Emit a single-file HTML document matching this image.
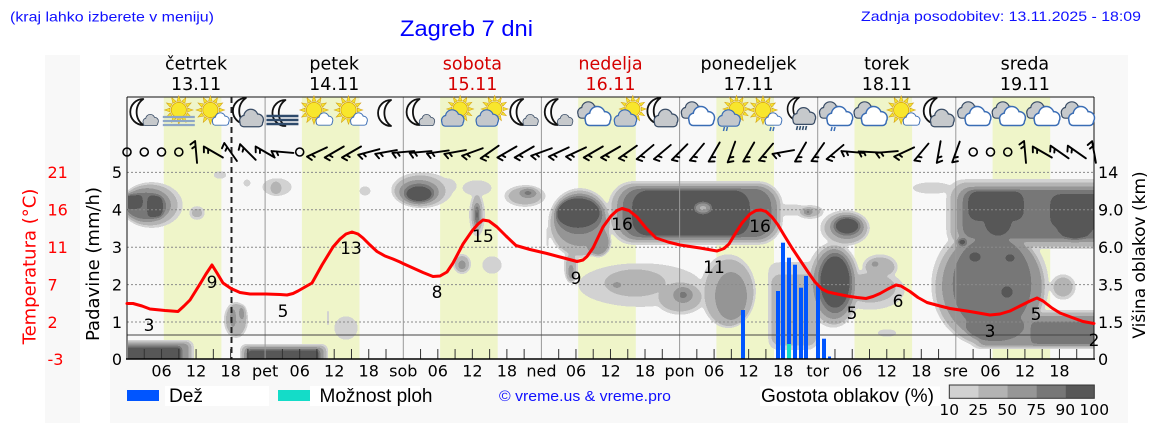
<!DOCTYPE html>
<html><head><meta charset="utf-8"><style>
html,body{margin:0;padding:0;background:#fff;}
body{width:1152px;height:443px;overflow:hidden;}
svg{display:block;}
.dj{font-family:"DejaVu Sans","Liberation Sans",sans-serif;}
.ls{font-family:"Liberation Sans","DejaVu Sans",sans-serif;}
.a{fill:#2e2e2e}.b{fill:#616161}.c{fill:#9e9e9e}.d{fill:#d1d1d1}.e{fill:#f7f7f7}
</style></head><body>
<svg width="1152" height="443" viewBox="0 0 1152 443" xmlns="http://www.w3.org/2000/svg">
<defs>
<clipPath id="pc"><rect x="128" y="162" width="966" height="197"/></clipPath>
<filter id="cf" filterUnits="userSpaceOnUse" x="100" y="140" width="1040" height="240" color-interpolation-filters="sRGB">
<feGaussianBlur in="SourceGraphic" stdDeviation="1.5" result="bl"/>
<feComponentTransfer in="bl" result="q">
<feFuncR type="discrete" tableValues="1 1 0.824 0.824 0.824 0.706 0.706 0.706 0.706 0.706 0.588 0.588 0.588 0.588 0.588 0.47 0.47 0.47 0.345 0.345"/>
<feFuncG type="discrete" tableValues="1 1 0.824 0.824 0.824 0.706 0.706 0.706 0.706 0.706 0.588 0.588 0.588 0.588 0.588 0.47 0.47 0.47 0.345 0.345"/>
<feFuncB type="discrete" tableValues="1 1 0.824 0.824 0.824 0.706 0.706 0.706 0.706 0.706 0.588 0.588 0.588 0.588 0.588 0.47 0.47 0.47 0.345 0.345"/>
</feComponentTransfer>
<feColorMatrix in="q" type="matrix" values="1 0 0 0 0  0 1 0 0 0  0 0 1 0 0  -10 0 0 0 10"/>
</filter>
<g id="moon"><path d="M3,-13A13,13 0 0 0 3,13A16,16 0 0 1 3,-13Z" fill="#fff" stroke="#111" stroke-width="1.8" stroke-linejoin="round"/></g>
<g id="sun"><path d="M9.29,-1.98L15,0L9.29,1.98Z M9.03,2.94L12.99,7.5L7.06,6.36Z M6.36,7.06L7.5,12.99L2.94,9.03Z M1.98,9.29L0,15L-1.98,9.29Z M-2.94,9.03L-7.5,12.99L-6.36,7.06Z M-7.06,6.36L-12.99,7.5L-9.03,2.94Z M-9.29,1.98L-15,0L-9.29,-1.98Z M-9.03,-2.94L-12.99,-7.5L-7.06,-6.36Z M-6.36,-7.06L-7.5,-12.99L-2.94,-9.03Z M-1.98,-9.29L0,-15L1.98,-9.29Z M2.94,-9.03L7.5,-12.99L6.36,-7.06Z M7.06,-6.36L12.99,-7.5L9.03,-2.94Z" fill="#f6e42c" stroke="#d4a017" stroke-width="0.6"/><circle r="8" fill="#f8e62c" stroke="#d9a400" stroke-width="0.8"/></g>
<g id="cs"><circle cx="-7" cy="3" r="5.5"/><circle cx="0" cy="-2" r="7.5"/><circle cx="8" cy="2" r="6"/><rect x="-12" y="2" width="25" height="7.5" rx="3.5"/></g>
<g id="cw"><use href="#cs" fill="#3a6db5" stroke="#3a6db5" stroke-width="3.2"/><use href="#cs" fill="#fff"/></g>
<g id="cg"><use href="#cs" fill="#3a4d66" stroke="#3a4d66" stroke-width="3"/><use href="#cs" fill="#c6c9cc"/></g>
<g id="cgb"><use href="#cs" fill="#3a6db5" stroke="#3a6db5" stroke-width="3"/><use href="#cs" fill="#c4c8cc"/></g>
<g id="T1"><use href="#moon" transform="translate(-4,-1)"/><use href="#cg" transform="translate(6,7) scale(0.55)"/></g>
<g id="T2"><use href="#sun" transform="translate(0,-3) scale(0.95)"/><path d="M-16,4H16M-16,8H16M-16,12H16" stroke="#8ea7c6" stroke-width="2.2"/></g>
<g id="T3"><use href="#sun" transform="translate(-3,-3) scale(0.95)"/><use href="#cw" transform="translate(7,6) scale(0.6)"/></g>
<g id="T4"><use href="#moon" transform="translate(-5,-2)"/><use href="#cg" transform="translate(3,5) scale(0.85)"/></g>
<g id="T5"><use href="#moon"/><path d="M-16,3H16M-16,7H16M-16,11H16" stroke="#2e4a6b" stroke-width="2.4"/></g>
<g id="T6"><use href="#moon" transform="translate(2,0)"/></g>
<g id="T7"><use href="#sun" transform="translate(5,-4) scale(0.9)"/><use href="#cgb" transform="translate(-3,5) scale(0.8)"/></g>
<g id="T8"><use href="#cg" transform="translate(-5,-3) scale(0.8)"/><use href="#cw" transform="translate(4,3) scale(0.92)"/></g>
<g id="T9"><use href="#T7"/><path d="M-7,14l-1,4M-4,14l-1,4" stroke="#3a6db5" stroke-width="1.5"/></g>
<g id="T10"><use href="#T3"/><path d="M5,14l-1,4M8,14l-1,4" stroke="#3a6db5" stroke-width="1.5"/></g>
<g id="T11"><use href="#moon" transform="translate(-4,-4) scale(0.9)"/><use href="#cg" transform="translate(3,3) scale(0.82)"/><path d="M-3,13l-1,4M0,13l-1,4M3,13l-1,4M6,13l-1,4" stroke="#34506e" stroke-width="1.6"/></g>
<g id="T12"><use href="#T8"/><path d="M-3,14l-1,4M0,14l-1,4" stroke="#3a6db5" stroke-width="1.5"/></g>
<g id="bb"><path d="M-11,0H11M-11,0l3,5M-6,0l2,3.5" fill="none" stroke="#000" stroke-width="1.9" stroke-linecap="round"/></g>
</defs>

<rect x="45" y="55" width="35" height="368" fill="#f8f8f8"/>
<rect x="110" y="55" width="1018" height="368" fill="#f8f8f8"/>

<g fill="#eff5c9">
<rect x="163.8" y="97" width="57.6" height="262"/>
<rect x="301.9" y="97" width="57.6" height="262"/>
<rect x="440.1" y="97" width="57.6" height="262"/>
<rect x="578.2" y="97" width="57.6" height="262"/>
<rect x="716.4" y="97" width="57.6" height="262"/>
<rect x="854.5" y="97" width="57.6" height="262"/>
<rect x="992.6" y="97" width="57.6" height="262"/>
</g>

<g clip-path="url(#pc)"><g filter="url(#cf)">
<rect x="100" y="140" width="1040" height="240" fill="#000"/>
<g class="a">
<ellipse cx="152" cy="205" rx="31" ry="23"/>
<ellipse cx="197" cy="213" rx="8" ry="7"/>
<ellipse cx="220" cy="175" rx="7" ry="4"/>
<ellipse cx="247" cy="183" rx="4" ry="4"/>
<ellipse cx="277" cy="187" rx="15" ry="9"/>
<ellipse cx="365" cy="191" rx="6" ry="5"/>
<ellipse cx="422" cy="190" rx="31" ry="18"/>
<ellipse cx="447" cy="186" rx="10" ry="8"/>
<ellipse cx="477" cy="188" rx="15" ry="8"/>
<ellipse cx="477" cy="215" rx="8" ry="22"/>
<ellipse cx="462" cy="264" rx="9" ry="10"/>
<ellipse cx="492" cy="265" rx="10" ry="9"/>
<ellipse cx="236" cy="320" rx="12" ry="18"/>
<ellipse cx="346" cy="328" rx="12" ry="12"/>
<rect x="326.5" y="309" width="3" height="18"/>
<rect x="110" y="340" width="84" height="40" rx="6"/>
<rect x="240" y="344" width="88" height="40" rx="6"/>
<ellipse cx="525" cy="196" rx="21" ry="11"/>
<rect x="546" y="228" width="3" height="20"/>
<ellipse cx="580" cy="223" rx="32" ry="35"/>
<ellipse cx="571" cy="265" rx="7" ry="18"/>
<rect x="608" y="181" width="175" height="64" rx="25"/>
<ellipse cx="640" cy="285" rx="62" ry="22"/>
<ellipse cx="680" cy="297" rx="26" ry="18"/>
<ellipse cx="728" cy="291" rx="28" ry="37"/>
<rect x="768" y="262" width="50" height="88" rx="10"/>
<ellipse cx="765" cy="196" rx="14" ry="9"/>
<ellipse cx="790" cy="210" rx="20" ry="6"/>
<ellipse cx="810" cy="212" rx="14" ry="7"/>
<ellipse cx="845" cy="228" rx="25" ry="18"/>
<ellipse cx="833" cy="285" rx="28" ry="43"/>
<ellipse cx="870" cy="290" rx="35" ry="20"/>
<ellipse cx="880" cy="267" rx="18" ry="13"/>
<ellipse cx="887" cy="333" rx="10" ry="4"/>
<ellipse cx="932" cy="188" rx="20" ry="6"/>
<rect x="946" y="179" width="180" height="70" rx="18"/>
<ellipse cx="990" cy="285" rx="59" ry="63"/>
<rect x="968" y="310" width="160" height="39" rx="12"/>
<ellipse cx="1063" cy="287" rx="13" ry="13"/>
</g>
<g class="b">
<ellipse cx="150" cy="205" rx="27" ry="20"/>
<ellipse cx="197" cy="213" rx="5" ry="4"/>
<ellipse cx="276" cy="188" rx="5" ry="6"/>
<ellipse cx="420" cy="191" rx="25" ry="15"/>
<ellipse cx="477" cy="213" rx="5" ry="18"/>
<ellipse cx="462" cy="264" rx="7" ry="8"/>
<ellipse cx="236" cy="320" rx="10" ry="16"/>
<rect x="110" y="342" width="81" height="40" rx="5"/>
<rect x="242" y="346" width="84" height="40" rx="5"/>
<ellipse cx="525" cy="196" rx="16" ry="8"/>
<ellipse cx="580" cy="223" rx="29" ry="32"/>
<ellipse cx="571" cy="268" rx="5" ry="14"/>
<rect x="612" y="184" width="168" height="58" rx="22"/>
<ellipse cx="635" cy="283" rx="30" ry="13"/>
<ellipse cx="680" cy="297" rx="21" ry="14"/>
<ellipse cx="729" cy="293" rx="24" ry="33"/>
<rect x="772" y="275" width="44" height="70" rx="8"/>
<ellipse cx="765" cy="197" rx="8" ry="5"/>
<ellipse cx="810" cy="212" rx="10" ry="4"/>
<ellipse cx="846" cy="228" rx="21" ry="15"/>
<ellipse cx="834" cy="285" rx="24" ry="39"/>
<ellipse cx="870" cy="288" rx="25" ry="14"/>
<ellipse cx="880" cy="267" rx="14" ry="9"/>
<rect x="951" y="183" width="175" height="63" rx="16"/>
<ellipse cx="990" cy="287" rx="54" ry="58"/>
<rect x="973" y="313" width="155" height="34" rx="10"/>
<ellipse cx="1063" cy="287" rx="9" ry="9"/>
</g>
<g class="c">
<ellipse cx="147" cy="205" rx="24" ry="17"/>
<ellipse cx="419" cy="192" rx="20" ry="12"/>
<ellipse cx="462" cy="265" rx="4" ry="5"/>
<ellipse cx="233" cy="318" rx="3" ry="10"/>
<ellipse cx="242" cy="313" rx="3" ry="7"/>
<rect x="110" y="343" width="79" height="40" rx="5"/>
<rect x="244" y="347" width="80" height="40" rx="5"/>
<ellipse cx="528" cy="193" rx="9" ry="5"/>
<ellipse cx="580" cy="220" rx="26" ry="26"/>
<ellipse cx="598" cy="242" rx="12" ry="14"/>
<ellipse cx="571" cy="272" rx="3" ry="8"/>
<rect x="617" y="186" width="160" height="54" rx="20"/>
<ellipse cx="617" cy="285" rx="5" ry="3"/>
<ellipse cx="683" cy="295" rx="10" ry="8"/>
<ellipse cx="731" cy="296" rx="16" ry="24"/>
<ellipse cx="847" cy="227" rx="17" ry="12"/>
<ellipse cx="834" cy="284" rx="21" ry="35"/>
<ellipse cx="875" cy="264" rx="4" ry="3"/>
<rect x="957" y="187" width="169" height="55" rx="14"/>
<ellipse cx="992" cy="286" rx="50" ry="54"/>
<rect x="978" y="316" width="150" height="30" rx="8"/>
</g>
<g class="d">
<ellipse cx="146" cy="206" rx="21" ry="14"/>
<ellipse cx="419" cy="193" rx="16" ry="10"/>
<ellipse cx="477" cy="215" rx="3" ry="12"/>
<ellipse cx="528" cy="193" rx="5" ry="3"/>
<ellipse cx="579" cy="215" rx="24" ry="20"/>
<rect x="622" y="188" width="150" height="50" rx="18"/>
<ellipse cx="683" cy="295" rx="5" ry="4"/>
<ellipse cx="847" cy="226" rx="14" ry="10"/>
<ellipse cx="835" cy="283" rx="18" ry="31"/>
<ellipse cx="808" cy="212" rx="4" ry="3"/>
<rect x="962" y="189" width="165" height="50" rx="12"/>
<ellipse cx="992" cy="284" rx="40" ry="48"/>
<ellipse cx="995" cy="326" rx="30" ry="16"/>
<rect x="1030" y="321" width="100" height="24" rx="6"/>
</g>
<g class="e">
<rect x="110" y="194" width="33" height="15" rx="5"/>
<rect x="147" y="195" width="16" height="23" rx="5"/>
<ellipse cx="419" cy="194" rx="13" ry="8"/>
<ellipse cx="477" cy="215" rx="2" ry="9"/>
<rect x="110" y="346" width="72" height="40" rx="4"/>
<rect x="247" y="349" width="73" height="40" rx="4"/>
<ellipse cx="578" cy="213" rx="22" ry="15"/>
<rect x="632" y="190" width="118" height="46" rx="16"/>
<ellipse cx="847" cy="226" rx="12" ry="8"/>
<ellipse cx="835" cy="282" rx="15" ry="26"/>
<rect x="968" y="191" width="56" height="30" rx="10"/>
<ellipse cx="998" cy="220" rx="14" ry="16"/>
<rect x="1050" y="194" width="80" height="34" rx="10"/>
<ellipse cx="1075" cy="222" rx="20" ry="18"/>
<ellipse cx="962" cy="242" rx="5" ry="4"/>
<ellipse cx="975" cy="257" rx="6" ry="5"/>
<ellipse cx="1010" cy="258" rx="5" ry="4"/>
<ellipse cx="1007" cy="292" rx="6" ry="6"/>
</g>
<ellipse class="c" cx="703" cy="208" rx="8" ry="5"/>
<ellipse class="b" cx="703" cy="208" rx="4" ry="2.5"/>
</g></g>

<g stroke="#8a8a8a" stroke-width="1" stroke-dasharray="2,2">
<path d="M127,172.4H1094M127,209.8H1094M127,247.2H1094M127,284.6H1094M127,322H1094"/>
</g>
<g stroke="#999" stroke-width="1">
<path d="M265.1,97V359M403.3,97V359M541.4,97V359M679.6,97V359M817.7,97V359M955.8,97V359"/>
</g>
<path d="M127,335H1094" stroke="#444" stroke-width="1"/>
<path d="M231.5,97V359" stroke="#222" stroke-width="2" stroke-dasharray="6,4"/>

<path stroke="#333" stroke-width="1" d="M144.27,349V359M161.54,349V359M178.8,349V359M196.07,349V359M213.34,349V359M230.6,349V359M247.87,349V359M282.41,349V359M299.68,349V359M316.94,349V359M334.21,349V359M351.48,349V359M368.74,349V359M386.01,349V359M420.55,349V359M437.82,349V359M455.08,349V359M472.35,349V359M489.62,349V359M506.88,349V359M524.15,349V359M558.69,349V359M575.96,349V359M593.22,349V359M610.49,349V359M627.76,349V359M645.02,349V359M662.29,349V359M696.83,349V359M714.1,349V359M731.36,349V359M748.63,349V359M765.9,349V359M783.16,349V359M800.43,349V359M834.97,349V359M852.24,349V359M869.5,349V359M886.77,349V359M904.04,349V359M921.3,349V359M938.57,349V359M973.11,349V359M990.38,349V359M1007.64,349V359M1024.91,349V359M1042.18,349V359M1059.44,349V359M1076.71,349V359"/>

<g fill="#0055ff">
<rect x="741" y="310" width="4" height="49"/>
<rect x="776" y="291" width="4" height="68"/>
<rect x="781" y="242.7" width="4" height="116.3"/>
<rect x="787" y="257.7" width="4" height="101.3"/>
<rect x="793" y="264.7" width="4" height="94.3"/>
<rect x="799" y="287.7" width="4" height="71.3"/>
<rect x="804" y="276" width="4" height="83"/>
<rect x="816" y="285" width="4" height="74"/>
<rect x="822" y="338.7" width="4" height="20.3"/>
<rect x="828" y="356.5" width="3" height="2.5"/>
</g>
<rect x="787" y="344" width="4" height="15" fill="#14dcc8"/>

<path d="M127,97H1094M127,97V359M1094,97V359" stroke="#111" stroke-width="1" fill="none"/>
<path d="M126,359H1095" stroke="#000" stroke-width="1.6"/>

<polyline fill="none" stroke="#ff0000" stroke-width="3" stroke-linejoin="round" stroke-linecap="round" points="127,303.5 133,303.5 142,306 150,309 165,310.5 178,311.5 184,306 190,300 200,284 206,274 212,265 217,273 223,283 231,288.5 240,292.5 250,294 266,294 280,294.5 287,295 293,293.5 298,291 305,287 312,283 322,265 333,247 340,239 346,234 352,232 358,234 363,238 370,245 377,251.5 385,256 393,259 400,262 403,263.5 413,268 423,272.5 433,276.5 440,276 447,272 453,263 463,244 472,231 478,224 483,220 489,221 497,227 506,236 516,245.5 530,249.5 547,253.5 562,257.5 577,261.5 583,260 587,256.5 593,248 603,227 611,216 617,210.5 622,208.5 629,210.5 637,217 646,228 656,238 668,242 680,245 700,248 717,251 724,248.5 729,244 735,234 742,223 750,214 756,210.5 761,210 766,211.5 772,217 778,225 784,235 792,248 800,260 808,272 815,282 822,289 828,292 837,294 847,296 857,297.5 866,298.5 873,296.5 880,293.5 888,289 896,285 901,286 910,291.5 918,297.5 927,302.5 940,306 950,308.5 970,311.5 990,315 1000,314 1010,311 1020,306 1030,301 1037,298 1043,301 1052,308 1060,313 1072,317.5 1083,321.5 1094,323.5"/>

<g class="dj" font-size="17" fill="#000" text-anchor="middle">
<text x="149" y="331">3</text><text x="212" y="288">9</text><text x="283" y="317">5</text><text x="351" y="254">13</text>
<text x="437" y="298">8</text><text x="483" y="242">15</text><text x="576" y="284">9</text><text x="622" y="230">16</text>
<text x="714" y="273">11</text><text x="760" y="232">16</text><text x="852" y="319">5</text><text x="898" y="307">6</text>
<text x="990" y="337">3</text><text x="1036" y="320">5</text><text x="1094" y="346">2</text>
</g>

<g transform="translate(0,113)">
<use href="#T1" x="144.27"/><use href="#T2" x="178.81"/><use href="#T3" x="213.35"/><use href="#T4" x="247.89"/>
<use href="#T5" x="282.43"/><use href="#T3" x="316.97"/><use href="#T3" x="351.51"/><use href="#T6" x="386.05"/>
<use href="#T1" x="420.59"/><use href="#T7" x="455.13"/><use href="#T7" x="489.67"/><use href="#T1" x="524.21"/>
<use href="#T1" x="558.75"/><use href="#T8" x="593.29"/><use href="#T7" x="627.83"/><use href="#T4" x="662.37"/>
<use href="#T8" x="696.91"/><use href="#T9" x="731.45"/><use href="#T10" x="765.99"/><use href="#T11" x="800.53"/>
<use href="#T12" x="835.07"/><use href="#T8" x="869.61"/><use href="#T3" x="904.15"/><use href="#T4" x="938.69"/>
<use href="#T8" x="973.23"/><use href="#T8" x="1007.77"/><use href="#T8" x="1042.31"/><use href="#T8" x="1076.85"/>
</g>

<g fill="none" stroke="#000" stroke-width="1.6">
<circle cx="127" cy="152" r="4"/><circle cx="144.27" cy="152" r="4"/><circle cx="161.54" cy="152" r="4"/><circle cx="178.81" cy="152" r="4"/>
<circle cx="299.7" cy="152" r="4"/><circle cx="973.23" cy="152" r="4"/><circle cx="990.5" cy="152" r="4"/><circle cx="1007.77" cy="152" r="4"/>
</g>
<use href="#bb" transform="translate(196.08,152) rotate(85)"/>
<use href="#bb" transform="translate(213.35,152) rotate(30)"/>
<use href="#bb" transform="translate(230.62,152) rotate(55)"/>
<use href="#bb" transform="translate(247.89,152) rotate(45)"/>
<use href="#bb" transform="translate(265.16,152) rotate(30)"/>
<use href="#bb" transform="translate(282.43,152) rotate(5)"/>
<use href="#bb" transform="translate(316.97,152) rotate(-25)"/>
<use href="#bb" transform="translate(334.24,152) rotate(-30)"/>
<use href="#bb" transform="translate(351.51,152) rotate(-30)"/>
<use href="#bb" transform="translate(368.78,152) rotate(-15)"/>
<use href="#bb" transform="translate(386.05,152) rotate(-10)"/>
<use href="#bb" transform="translate(403.32,152) rotate(-5)"/>
<use href="#bb" transform="translate(420.59,152) rotate(-5)"/>
<use href="#bb" transform="translate(437.86,152) rotate(-8)"/>
<use href="#bb" transform="translate(455.13,152) rotate(-10)"/>
<use href="#bb" transform="translate(472.4,152) rotate(-20)"/>
<use href="#bb" transform="translate(489.67,152) rotate(-35)"/>
<use href="#bb" transform="translate(506.94,152) rotate(-30)"/>
<use href="#bb" transform="translate(524.21,152) rotate(-30)"/>
<use href="#bb" transform="translate(541.48,152) rotate(-20)"/>
<use href="#bb" transform="translate(558.75,152) rotate(-25)"/>
<use href="#bb" transform="translate(576.02,152) rotate(-25)"/>
<use href="#bb" transform="translate(593.29,152) rotate(-30)"/>
<use href="#bb" transform="translate(610.56,152) rotate(-30)"/>
<use href="#bb" transform="translate(627.83,152) rotate(-35)"/>
<use href="#bb" transform="translate(645.1,152) rotate(-40)"/>
<use href="#bb" transform="translate(662.37,152) rotate(-40)"/>
<use href="#bb" transform="translate(679.64,152) rotate(-45)"/>
<use href="#bb" transform="translate(696.91,152) rotate(-50)"/>
<use href="#bb" transform="translate(714.18,152) rotate(-60)"/>
<use href="#bb" transform="translate(731.45,152) rotate(-70)"/>
<use href="#bb" transform="translate(748.72,152) rotate(-60)"/>
<use href="#bb" transform="translate(765.99,152) rotate(-50)"/>
<use href="#bb" transform="translate(783.26,152) rotate(-10)"/>
<use href="#bb" transform="translate(800.53,152) rotate(-60)"/>
<use href="#bb" transform="translate(817.8,152) rotate(-55)"/>
<use href="#bb" transform="translate(835.07,152) rotate(-40)"/>
<use href="#bb" transform="translate(852.34,152) rotate(5)"/>
<use href="#bb" transform="translate(869.61,152) rotate(3)"/>
<use href="#bb" transform="translate(886.88,152) rotate(-5)"/>
<use href="#bb" transform="translate(904.15,152) rotate(-25)"/>
<use href="#bb" transform="translate(921.42,152) rotate(-50)"/>
<use href="#bb" transform="translate(938.69,152) rotate(-80)"/>
<use href="#bb" transform="translate(955.96,152) rotate(-70)"/>
<use href="#bb" transform="translate(1025.04,152) rotate(85)"/>
<use href="#bb" transform="translate(1042.31,152) rotate(30)"/>
<use href="#bb" transform="translate(1059.58,152) rotate(35)"/>
<use href="#bb" transform="translate(1076.85,152) rotate(35)"/>
<use href="#bb" transform="translate(1094,152) rotate(80)"/>

<text class="ls" x="10" y="21.5" font-size="14" fill="#1010ff" textLength="204" lengthAdjust="spacingAndGlyphs">(kraj lahko izberete v meniju)</text>
<text class="ls" x="400" y="36" font-size="22" fill="#0000ff" textLength="133" lengthAdjust="spacingAndGlyphs">Zagreb 7 dni</text>
<text class="ls" x="861" y="21" font-size="14" fill="#1010ff" textLength="280" lengthAdjust="spacingAndGlyphs">Zadnja posodobitev: 13.11.2025 - 18:09</text>

<g class="dj" font-size="17.5" text-anchor="middle">
<text x="196.1" y="69.5">četrtek</text><text x="196.1" y="90">13.11</text>
<text x="334.2" y="69.5">petek</text><text x="334.2" y="90">14.11</text>
<text x="472.4" y="69.5" fill="#d50000">sobota</text><text x="472.4" y="90" fill="#d50000">15.11</text>
<text x="610.5" y="69.5" fill="#d50000">nedelja</text><text x="610.5" y="90" fill="#d50000">16.11</text>
<text x="748.6" y="69.5">ponedeljek</text><text x="748.6" y="90">17.11</text>
<text x="886.8" y="69.5">torek</text><text x="886.8" y="90">18.11</text>
<text x="1024.9" y="69.5">sreda</text><text x="1024.9" y="90">19.11</text>
</g>

<g class="dj" font-size="16" text-anchor="middle">
<text x="161.5" y="376.5">06</text><text x="196.1" y="376.5">12</text><text x="230.6" y="376.5">18</text>
<text x="265.1" y="376.5">pet</text><text x="299.7" y="376.5">06</text><text x="334.2" y="376.5">12</text><text x="368.7" y="376.5">18</text>
<text x="403.3" y="376.5">sob</text><text x="437.8" y="376.5">06</text><text x="472.4" y="376.5">12</text><text x="506.9" y="376.5">18</text>
<text x="541.4" y="376.5">ned</text><text x="576" y="376.5">06</text><text x="610.5" y="376.5">12</text><text x="645" y="376.5">18</text>
<text x="679.6" y="376.5">pon</text><text x="714.1" y="376.5">06</text><text x="748.6" y="376.5">12</text><text x="783.2" y="376.5">18</text>
<text x="817.7" y="376.5">tor</text><text x="852.2" y="376.5">06</text><text x="886.8" y="376.5">12</text><text x="921.3" y="376.5">18</text>
<text x="955.8" y="376.5">sre</text><text x="990.4" y="376.5">06</text><text x="1024.9" y="376.5">12</text><text x="1059.4" y="376.5">18</text>
</g>

<g class="dj" font-size="16" text-anchor="end">
<text x="122" y="178">5</text><text x="122" y="215.5">4</text><text x="122" y="253">3</text><text x="122" y="290.5">2</text><text x="122" y="328">1</text><text x="122" y="365">0</text>
</g>
<g class="dj" font-size="16" fill="#ff0000">
<text x="47.5" y="178">21</text><text x="47.5" y="215.5">16</text><text x="47.5" y="253">11</text><text x="47.5" y="290.5">7</text><text x="47.5" y="328">2</text><text x="47.5" y="365">-3</text>
</g>
<g class="dj" font-size="16">
<text x="1098" y="178">14</text><text x="1098" y="215.5">9.0</text><text x="1098" y="253">6.0</text><text x="1098" y="290.5">3.5</text><text x="1098" y="328">1.5</text><text x="1098" y="365">0</text>
</g>
<text class="dj" font-size="18" text-anchor="middle" transform="translate(99,264) rotate(-90)">Padavine (mm/h)</text>
<text class="dj" font-size="18" fill="#ff0000" text-anchor="middle" transform="translate(35.5,266.5) rotate(-90)">Temperatura (°C)</text>
<text class="dj" font-size="17" text-anchor="middle" transform="translate(1145,255) rotate(-90)">Višina oblakov (km)</text>

<rect x="127" y="390" width="32" height="11" fill="#0055ff"/>
<rect x="165" y="386" width="104" height="20" fill="#fff"/>
<text class="ls" x="169" y="402" font-size="19" textLength="34" lengthAdjust="spacingAndGlyphs">Dež</text>
<rect x="278" y="390" width="32" height="11" fill="#14dcc8"/>
<rect x="310" y="386" width="110" height="20" fill="#fff"/>
<text class="ls" x="319.5" y="402" font-size="19" textLength="113" lengthAdjust="spacingAndGlyphs">Možnost ploh</text>
<text class="ls" x="499" y="401" font-size="15" fill="#1010ff" textLength="172" lengthAdjust="spacingAndGlyphs">© vreme.us &amp; vreme.pro</text>
<rect x="760" y="386.5" width="180" height="19.5" fill="#fff"/>
<text class="ls" x="761" y="402" font-size="19" textLength="173" lengthAdjust="spacingAndGlyphs">Gostota oblakov (%)</text>
<g>
<rect x="949.3" y="385" width="29" height="13.3" fill="#d1d1d1"/>
<rect x="978.3" y="385" width="29" height="13.3" fill="#b3b3b3"/>
<rect x="1007.3" y="385" width="29" height="13.3" fill="#969696"/>
<rect x="1036.3" y="385" width="29" height="13.3" fill="#777"/>
<rect x="1065.3" y="385" width="29" height="13.3" fill="#585858"/>
<rect x="949.3" y="385" width="145" height="13.3" fill="none" stroke="#333" stroke-width="1"/>
</g>
<g class="dj" font-size="15.5" text-anchor="middle">
<text x="949.3" y="415">10</text><text x="978.3" y="415">25</text><text x="1007.3" y="415">50</text><text x="1036.3" y="415">75</text><text x="1065.3" y="415">90</text><text x="1094.3" y="415">100</text>
</g>
</svg>
</body></html>
